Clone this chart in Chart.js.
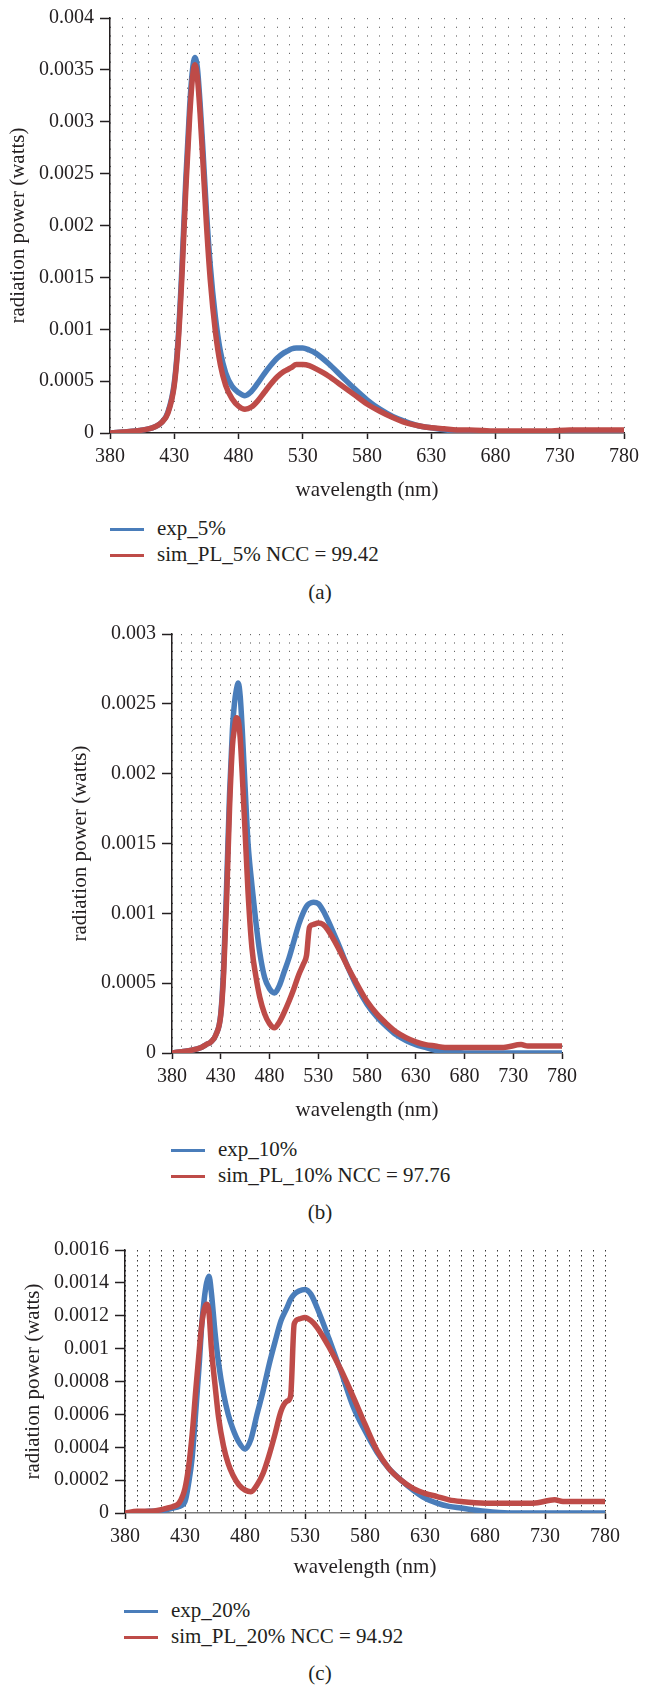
<!DOCTYPE html>
<html>
<head>
<meta charset="utf-8">
<script src="https://cdn.jsdelivr.net/npm/chart.js@4.4.1/dist/chart.umd.min.js"></script>
<style>
  body { margin: 0; background: #fff; }
  #page { position: relative; width: 646px; height: 1685px; overflow: hidden; font-family: "Liberation Serif", "DejaVu Serif", serif; color: #231f20; }
  .panel { position: absolute; left: 0; }
  .row { position: absolute; height: 26px; line-height: 26px; font-size: 21px; white-space: nowrap; }
  .row .sw { display: inline-block; width: 34px; height: 3px; vertical-align: middle; margin-right: 13px; position: relative; top: -1px; }
  .cap { position: absolute; left: 0; width: 640px; text-align: center; font-size: 21px; line-height: 26px; }
</style>
</head>
<body>
<div id="page"></div>
<script>
// wavelength samples (nm), shared by the three panels
const wavelengths = [380, 390, 400, 410, 415, 420, 425, 430, 433, 436, 439, 442, 444, 446, 448, 450, 452,
  455, 458, 462, 466, 470, 475, 480, 485, 490, 495, 500, 505, 510, 515, 518, 521, 525, 530, 535, 540,
  550, 560, 570, 580, 590, 600, 610, 620, 630, 640, 650, 660, 680, 700, 720, 738, 745, 760, 780];

// (a) 5%
const exp5 = [0, 0.00001, 0.00002, 0.00004, 0.00006, 0.00010, 0.00020, 0.00048, 0.00090, 0.00160, 0.00245, 0.00315, 0.00348, 0.00362, 0.00352, 0.00320, 0.00280,
  0.00215, 0.00162, 0.00112, 0.00078, 0.00058, 0.00045, 0.00039, 0.00036, 0.00040, 0.00048, 0.00057, 0.00065, 0.00072, 0.00077, 0.00079, 0.00081, 0.00082, 0.00082, 0.00080, 0.00077,
  0.00067, 0.00055, 0.00043, 0.00032, 0.00023, 0.00016, 0.00011, 0.00007, 0.00005, 0.00003, 0.00002, 0.00001, 0, 0, 0, 0, 0, 0, 0];
const simPL5 = [0, 0.00001, 0.00002, 0.00004, 0.00006, 0.00010, 0.00019, 0.00046, 0.00086, 0.00152, 0.00235, 0.00305, 0.00340, 0.00355, 0.00343, 0.00310, 0.00268,
  0.00202, 0.00148, 0.00098, 0.00065, 0.00046, 0.00033, 0.00026, 0.00023, 0.00025, 0.00031, 0.00039, 0.00047, 0.00054, 0.00059, 0.00061, 0.00063, 0.00066, 0.00066, 0.00065, 0.00062,
  0.00055, 0.00046, 0.00037, 0.00028, 0.00021, 0.00015, 0.00010, 0.00007, 0.00005, 0.00004, 0.00003, 0.00003, 0.00002, 0.00002, 0.00002, 0.00003, 0.00003, 0.00003, 0.00003];

// (b) 10%
const exp10 = [0, 0.00001, 0.00002, 0.00004, 0.00006, 0.00008, 0.00013, 0.00028, 0.00062, 0.00120, 0.00185, 0.00232, 0.00250, 0.00260, 0.00265, 0.00255, 0.00232,
  0.00190, 0.00150, 0.00120, 0.00094, 0.00072, 0.00054, 0.00046, 0.00043, 0.00048, 0.00058, 0.00068, 0.00080, 0.00092, 0.00101, 0.00105, 0.00107, 0.00108, 0.00107, 0.00102, 0.00095,
  0.00079, 0.00062, 0.00047, 0.00035, 0.00026, 0.00019, 0.00013, 0.00009, 0.00006, 0.00004, 0.00002, 0.00001, 0, 0, 0, 0, 0, 0, 0];
const simPL10 = [0, 0.00001, 0.00002, 0.00004, 0.00006, 0.00008, 0.00013, 0.00027, 0.00057, 0.00110, 0.00175, 0.00220, 0.00232, 0.00240, 0.00238, 0.00225, 0.00200,
  0.00158, 0.00115, 0.00075, 0.00055, 0.00040, 0.00028, 0.00021, 0.00018, 0.00022, 0.00029, 0.00037, 0.00046, 0.00056, 0.00064, 0.00070, 0.00090, 0.00092, 0.00093, 0.00092, 0.00088,
  0.00076, 0.00062, 0.00049, 0.00037, 0.00028, 0.00021, 0.00015, 0.00011, 0.00008, 0.00006, 0.00005, 0.00004, 0.00004, 0.00004, 0.00004, 0.00006, 0.00005, 0.00005, 0.00005];

// (c) 20%
const exp20 = [0, 0, 0.00001, 0.00001, 0.00002, 0.00003, 0.00004, 0.00007, 0.00018, 0.00034, 0.00062, 0.00092, 0.00115, 0.00130, 0.00140, 0.00144, 0.00134,
  0.00110, 0.00091, 0.00073, 0.00060, 0.00051, 0.00043, 0.00039, 0.00045, 0.00060, 0.00074, 0.00090, 0.00104, 0.00117, 0.00125, 0.00130, 0.00133, 0.00135, 0.00136, 0.00133, 0.00125,
  0.00106, 0.00086, 0.00065, 0.00050, 0.00037, 0.00027, 0.00020, 0.00014, 0.00009, 0.00006, 0.00004, 0.00003, 0.00001, 0, 0, 0, 0, 0, 0];
const simPL20 = [0, 0.00001, 0.00001, 0.00002, 0.00003, 0.00004, 0.00006, 0.00015, 0.00028, 0.00048, 0.00075, 0.00100, 0.00115, 0.00124, 0.00127, 0.00122, 0.00100,
  0.00078, 0.00058, 0.00041, 0.00030, 0.00023, 0.00017, 0.00014, 0.00013, 0.00017, 0.00024, 0.00035, 0.00048, 0.00062, 0.00068, 0.00071, 0.00115, 0.00118, 0.00119, 0.00117, 0.00113,
  0.00101, 0.00087, 0.00071, 0.00054, 0.00038, 0.00027, 0.00020, 0.00015, 0.00012, 0.00010, 0.00008, 0.00007, 0.00006, 0.00006, 0.00006, 0.00008, 0.00007, 0.00007, 0.00007];

const expSeries = [exp5, exp10, exp20];
const simSeries = [simPL5, simPL10, simPL20];
const expNames = ['exp_5%', 'exp_10%', 'exp_20%'];
const simNames = ['sim_PL_5% NCC = 99.42', 'sim_PL_10% NCC = 97.76', 'sim_PL_20% NCC = 94.92'];
const captions = ['(a)', '(b)', '(c)'];
const yMaxes = [0.004, 0.003, 0.0016];
const ySteps = [0.0005, 0.0005, 0.0002];

const INK = '#231f20';
const BLUE = '#4a7dba';
const RED = '#be4b48';
const SERIF = '"Liberation Serif", "DejaVu Serif", serif';

// page placement of each panel
const panels = [
  { top: 0, height: 505, plotLeft: 110, padTop: 15, padRight: 22, yTitlePad: 5.4, xTitlePad: 2.4,
    dash: [1.2, 7.5], dot: 'rgba(40,40,40,0.7)', xLine: INK, legendX: 110, legendY: 528, capY: 592 },
  { top: 610, height: 515, plotLeft: 172, padTop: 24, padRight: 84, yTitlePad: 67.4, xTitlePad: 2.4,
    dash: [1.2, 7.2], dot: 'rgba(40,40,40,0.7)', xLine: INK, legendX: 171, legendY: 1149, capY: 1212 },
  { top: 1230, height: 355, plotLeft: 125, padTop: 20, padRight: 41, yTitlePad: 20.4, xTitlePad: 5.4,
    dash: [1.5, 3.5], dot: 'rgba(20,20,20,0.85)', xLine: '#7a7a7a', legendX: 124, legendY: 1610, capY: 1673 }
];

const page = document.getElementById('page');
const toPoints = ys => wavelengths.map((w, k) => ({ x: w, y: ys[k] }));

panels.forEach((p, i) => {
  const box = document.createElement('div');
  box.className = 'panel';
  box.style.top = p.top + 'px';
  const canvas = document.createElement('canvas');
  canvas.width = 646;
  canvas.height = p.height;
  box.appendChild(canvas);
  page.appendChild(box);

  new Chart(canvas, {
    type: 'line',
    data: {
      datasets: [
        { label: expNames[i], data: toPoints(expSeries[i]), borderColor: BLUE, borderWidth: 5.5,
          pointRadius: 0, cubicInterpolationMode: 'monotone', fill: false, order: 2 },
        { label: simNames[i], data: toPoints(simSeries[i]), borderColor: RED, borderWidth: 5.5,
          pointRadius: 0, cubicInterpolationMode: 'monotone', fill: false, order: 1 }
      ]
    },
    options: {
      responsive: false,
      animation: false,
      events: [],
      layout: { padding: { left: 0, top: p.padTop, right: p.padRight, bottom: 0 } },
      plugins: { legend: { display: false }, tooltip: { enabled: false } },
      scales: {
        x: {
          type: 'linear',
          min: 380,
          max: 780,
          afterFit: s => { s.height = 72; },
          ticks: {
            stepSize: 10,
            autoSkip: false,
            maxRotation: 0,
            padding: 6,
            color: INK,
            font: { family: SERIF, size: 20 },
            callback: v => ((v - 380) % 50 === 0 ? String(v) : '')
          },
          grid: {
            color: p.dot,
            lineWidth: 1,
            tickLength: 6,
            tickWidth: 1.5,
            tickColor: c => (c.tick && (c.tick.value - 380) % 50 !== 0 ? 'rgba(0,0,0,0)' : INK)
          },
          border: { color: p.xLine, width: 1.5, dash: p.dash },
          title: {
            display: true,
            text: 'wavelength (nm)',
            color: INK,
            font: { family: SERIF, size: 21 },
            padding: { top: 0, bottom: p.xTitlePad }
          }
        },
        y: {
          min: 0,
          max: yMaxes[i],
          afterFit: s => { s.width = p.plotLeft; },
          ticks: {
            stepSize: ySteps[i],
            padding: 6,
            color: INK,
            font: { family: SERIF, size: 20 },
            callback: v => String(Number(v.toFixed(5)))
          },
          grid: { drawOnChartArea: false, tickLength: 10, tickWidth: 1.5, tickColor: INK },
          border: { color: INK, width: 1.5 },
          title: {
            display: true,
            text: 'radiation power (watts)',
            color: INK,
            font: { family: SERIF, size: 21 },
            padding: { top: p.yTitlePad, bottom: 0 }
          }
        }
      }
    }
  });

  // legend, one entry per line
  [[expNames[i], BLUE], [simNames[i], RED]].forEach(([name, color], k) => {
    const row = document.createElement('div');
    row.className = 'row';
    row.style.left = p.legendX + 'px';
    row.style.top = (p.legendY - 13 + k * 26) + 'px';
    const sw = document.createElement('span');
    sw.className = 'sw';
    sw.style.background = color;
    row.appendChild(sw);
    row.appendChild(document.createTextNode(name));
    page.appendChild(row);
  });

  const cap = document.createElement('div');
  cap.className = 'cap';
  cap.style.top = (p.capY - 13) + 'px';
  cap.textContent = captions[i];
  page.appendChild(cap);
});
</script>
</body>
</html>
